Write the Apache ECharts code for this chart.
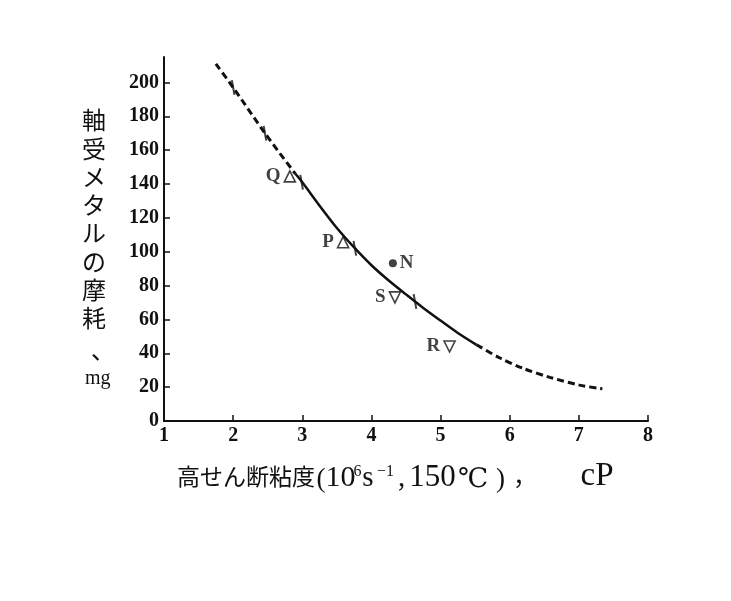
<!DOCTYPE html>
<html><head><meta charset="utf-8">
<script src="https://cdn.jsdelivr.net/npm/echarts@6/dist/echarts.min.js"></script>
<style>html,body{margin:0;padding:0;background:#fff}#c{width:731px;height:601px}</style>
</head><body><div id="c"></div>
<script>
// ---- data ----
var xTicks = [1, 2, 3, 4, 5, 6, 7, 8];
var yTicks = [0, 20, 40, 60, 80, 100, 120, 140, 160, 180, 200];
var upperDashX = [1.75, 2.0, 2.46, 2.9];
var upperDashY = [211, 197, 170, 146];
var solidX = [2.9, 3.0, 3.25, 3.5, 3.75, 4.0, 4.25, 4.5, 4.75, 5.0, 5.25, 5.52];
var solidY = [146, 141, 127.2, 114, 102.5, 92, 83, 74.8, 66.8, 59.3, 52, 45];
var lowerDashX = [5.52, 5.86, 6.2, 6.58, 7.01, 7.34];
var lowerDashY = [45, 37.2, 31, 25.8, 21.2, 19];
var barX = [2.0, 2.46, 2.99, 3.76, 4.63];
var barY = [197, 170, 141, 102, 70.6];
var upNames = ['Q', 'P'];
var upX = [2.82, 3.59];
var upY = [144.5, 105.6];
var downNames = ['S', 'R'];
var downX = [4.34, 5.13];
var downY = [73, 44];
var dotNames = ['N'];
var dotX = [4.31];
var dotY = [93.2];
// x-axis title pieces: [text, style]
var xTitleParts = [
  ['高せん断粘度', 'jp'], ['(', 'par'], ['10', 'ten'], ['6', 'sup1'], ['s', 'ess'],
  ['−1', 'sup2'], [',', 'com'], ['150', 'num'], ['℃', 'deg'], [')', 'par2'], ['，', 'jcom'],
  [' ', 'gap'], ['cP', 'cp']
];
var yTitle = ['軸', '受', 'メ', 'タ', 'ル', 'の', '摩', '耗'];
var yTitleComma = '、';
var yUnit = 'mg';

function zip(xs, ys) { return xs.map(function (x, i) { return [x, ys[i]]; }); }
function zipN(xs, ys, ns) { return xs.map(function (x, i) { return { value: [x, ys[i]], name: ns[i] }; }); }

var serif = "'Liberation Serif','DejaVu Serif',serif";
var jpf = "'Noto Sans CJK JP',sans-serif";
var degf = "'DejaVu Serif','DejaVu Sans','Noto Sans CJK JP',serif";
function tok(font, size, width, align, va, lh, pad) {
  var t = { fontFamily: font, fontSize: size, width: width, align: align || 'left',
    verticalAlign: va || 'bottom', lineHeight: lh || 34, fill: '#111' };
  if (pad) t.padding = pad;
  return t;
}
var rich = {
  jp: tok(jpf, 23, 138, 'left', 'bottom', 34, [0, 0, 5, 0]),
  par: tok(serif, 27, 12, 'center'),
  ten: tok(serif, 30, 27),
  sup1: tok(serif, 16, 7, 'left', 'top', 16, [5, 0, 0, 0]),
  ess: tok(serif, 29, 14),
  sup2: tok(serif, 16, 21, 'left', 'top', 16, [5, 0, 0, 0]),
  com: tok(serif, 29, 11),
  num: tok(serif, 31, 51, 'center'),
  deg: tok(degf, 27, 30, 'center'),
  par2: tok(serif, 27, 25, 'center'),
  jcom: tok(jpf, 24, 24, 'left', 'bottom', 34, [0, 0, 5, 0]),
  gap: tok(serif, 20, 39),
  cp: tok(serif, 33, 42)
};

var chart = echarts.init(document.getElementById('c'), null, { renderer: 'canvas' });
var lbl = { show: true, formatter: '{b}', color: '#111', fontFamily: serif, fontWeight: 'bold', fontSize: 19 };
chart.setOption({
  backgroundColor: '#fff',
  animation: false,
  grid: { left: 164, right: 83, top: 57, bottom: 180 },
  xAxis: {
    type: 'value', min: xTicks[0], max: xTicks[xTicks.length - 1], interval: 1,
    splitLine: { show: false },
    axisLine: { lineStyle: { color: '#111', width: 2 } },
    axisTick: { inside: true, length: 6, lineStyle: { color: '#111', width: 1.5 } },
    axisLabel: { color: '#111', fontFamily: serif, fontWeight: 'bold', fontSize: 20, margin: 5 }
  },
  yAxis: {
    type: 'value', min: 0, max: 215, interval: 20,
    splitLine: { show: false },
    axisLine: { show: true, lineStyle: { color: '#111', width: 2 } },
    axisTick: { inside: true, length: 6, customValues: yTicks, lineStyle: { color: '#111', width: 1.5 } },
    axisLabel: { customValues: yTicks, color: '#111', fontFamily: serif, fontWeight: 'bold', fontSize: 20, margin: 5 }
  },
  series: [
    { type: 'line', data: zip(upperDashX, upperDashY), smooth: 0.3, symbol: 'none',
      lineStyle: { color: '#111', width: 3, type: [7, 4] } },
    { type: 'line', data: zip(solidX, solidY), smooth: 0.3, symbol: 'none',
      lineStyle: { color: '#111', width: 2.5 } },
    { type: 'line', data: zip(lowerDashX, lowerDashY), smooth: 0.3, symbol: 'none',
      lineStyle: { color: '#111', width: 3, type: [7, 4] } },
    { type: 'scatter', data: zip(barX, barY), symbol: 'rect', symbolSize: [2, 15], symbolRotate: 10,
      itemStyle: { color: '#111' } },
    { type: 'scatter', data: zipN(upX, upY, upNames), symbol: 'triangle', symbolSize: 11,
      itemStyle: { color: '#fff', borderColor: '#111', borderWidth: 1.6 },
      label: Object.assign({}, lbl, { position: 'left', distance: 3 }) },
    { type: 'scatter', data: zipN(downX, downY, downNames), symbol: 'triangle', symbolRotate: 180, symbolSize: 11,
      itemStyle: { color: '#fff', borderColor: '#111', borderWidth: 1.6 },
      label: Object.assign({}, lbl, { position: 'left', distance: 3 }) },
    { type: 'scatter', data: zipN(dotX, dotY, dotNames), symbol: 'circle', symbolSize: 8,
      itemStyle: { color: '#111' },
      label: Object.assign({}, lbl, { position: 'right', distance: 3 }) }
  ],
  graphic: [
    { type: 'text', left: 177, top: 459,
      style: {
        text: xTitleParts.map(function (p) { return '{' + p[1] + '|' + p[0] + '}'; }).join(''),
        rich: rich
      } },
    { type: 'text', left: 82, top: 106,
      style: { text: yTitle.join('\n'), fontFamily: jpf,
        fontSize: 24, lineHeight: 28.3, fill: '#111', align: 'left' } },
    { type: 'text', left: 91, top: 338,
      style: { text: yTitleComma, fontFamily: jpf, fontSize: 24, fill: '#111' } },
    { type: 'text', left: 85, top: 369,
      style: { text: yUnit, fontFamily: serif, fontSize: 20, fill: '#111' } }
  ]
});
</script></body></html>
